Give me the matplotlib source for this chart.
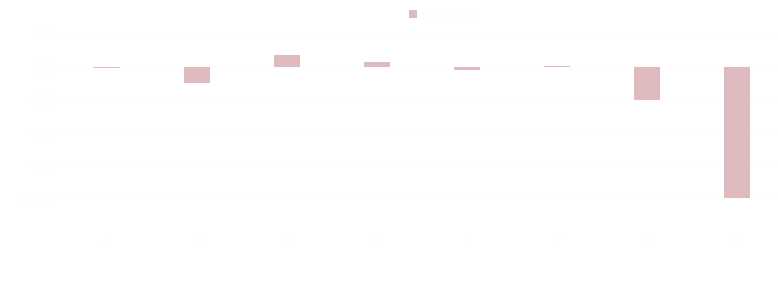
import matplotlib.pyplot as plt
import numpy as np

# Werte (aus dem Bild geschaetzt)
categories = ["A", "B", "C", "D", "E", "F", "G", "H"]
values = [-0.05, -1.2, 0.9, 0.4, -0.2, 0.08, -2.5, -10.0]
series_name = "Change"

bar_color = "#dfbbbf"

fig = plt.figure(figsize=(7.78, 3.02), dpi=100)
ax = fig.add_axes([62 / 778, 1 - 230 / 302, 720 / 778, 210 / 302])

x = np.arange(len(categories))
ax.bar(x, values, width=0.29, color=bar_color, label=series_name)

ax.set_xlim(-0.5, len(categories) - 0.5)
ax.set_ylim(-12.44, 3.59)
ax.set_xticks(x)
ax.set_xticklabels(categories, color="#fefefe")
ax.tick_params(colors="#fefefe", length=0)
ax.grid(axis="y", color="#fefefe", linewidth=0.8)
ax.set_axisbelow(True)
for s in ax.spines.values():
    s.set_visible(False)

leg = ax.legend(loc="upper center", bbox_to_anchor=(0.528, 1.11), frameon=False,
                handlelength=0.6, handleheight=0.6, fontsize=9)
for t in leg.get_texts():
    t.set_color("#fefefe")

fig.savefig("out.png", dpi=100)
